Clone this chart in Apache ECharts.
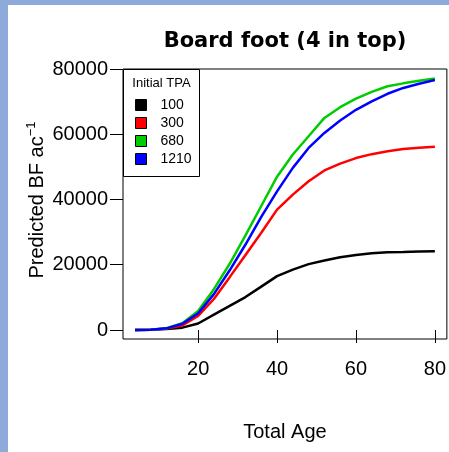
<!DOCTYPE html>
<html>
<head>
<meta charset="utf-8">
<script src="https://cdn.jsdelivr.net/npm/echarts@6/dist/echarts.min.js"></script>
<style>
html,body{margin:0;padding:0;background:#fff;}
#c{width:449px;height:452px;}
</style>
</head>
<body>
<div id="c"></div>
<script>
// Data
var ages = [4, 8, 12, 16, 20, 24, 28, 32, 36, 40, 44, 48, 52, 56, 60, 64, 68, 72, 76, 80];
var tpa100 = [0, 80, 300, 720, 2000, 4700, 7400, 10100, 13300, 16500, 18500, 20200, 21300, 22300, 23000, 23500, 23850, 23900, 24050, 24150];
var tpa300 = [0, 100, 450, 1400, 4300, 9500, 16200, 23000, 29800, 36900, 41500, 45600, 48900, 51000, 52700, 53900, 54800, 55450, 55850, 56150];
var tpa680 = [0, 100, 520, 2100, 5800, 12500, 20300, 29000, 38000, 47000, 53800, 59400, 65000, 68300, 70900, 73000, 74700, 75600, 76400, 77100];
var tpa1210 = [0, 100, 500, 1900, 5100, 11000, 18300, 26200, 34700, 42500, 49700, 55800, 60400, 64200, 67500, 70100, 72400, 74200, 75500, 76600];
var legendNames = ['100', '300', '680', '1210'];
var xTicks = [20, 40, 60, 80];
var yTicks = [0, 20000, 40000, 60000, 80000];

var FONT = 'Liberation Sans, Arial, sans-serif';
function pairs(v) { return ages.map(function (a, i) { return [a, v[i]]; }); }
var colors = ['#000000', '#ff0000', '#00cc00', '#0000ff'];
var seriesData = [tpa100, tpa300, tpa680, tpa1210];

var chart = echarts.init(document.getElementById('c'), null, {renderer: 'canvas'});
chart.setOption({
  backgroundColor: '#ffffff',
  animation: false,
  textStyle: {fontFamily: FONT, color: '#000'},
  title: {
    text: 'Board foot (4 in top)',
    left: 280, top: 26, textAlign: 'center',
    textStyle: {fontFamily: 'DejaVu Sans', fontSize: 21, fontWeight: 'bold', color: '#000'}
  },
  grid: {left: 123, top: 69, right: 2, bottom: 113, show: true, borderColor: '#000', borderWidth: 1, backgroundColor: 'transparent'},
  xAxis: {
    type: 'value', min: 0.96, max: 83.04,
    name: 'Total Age', nameLocation: 'middle', nameGap: 83, nameMoveOverlap: false,
    nameTextStyle: {fontFamily: FONT, fontSize: 20, color: '#000'},
    axisLine: {show: false},
    axisTick: {show: true, length: 13, customValues: xTicks, lineStyle: {color: '#000', width: 1}},
    axisLabel: {customValues: xTicks, margin: 20, fontSize: 20, color: '#000', fontFamily: FONT},
    splitLine: {show: false}
  },
  yAxis: {
    type: 'value', min: -2760, max: 80000,
    name: '{a|Predicted BF ac}{b|−1}', nameLocation: 'middle', nameGap: 74, nameMoveOverlap: false,
    nameTextStyle: {
      fontFamily: FONT, fontSize: 20, color: '#000', padding: [0, 0, 0, 8],
      rich: {
        a: {fontFamily: FONT, fontSize: 20, color: '#000', lineHeight: 24},
        b: {fontFamily: FONT, fontSize: 13, color: '#000', verticalAlign: 'top', lineHeight: 14}
      }
    },
    axisLine: {show: false},
    axisTick: {show: true, length: 13, customValues: yTicks, lineStyle: {color: '#000', width: 1}},
    axisLabel: {customValues: yTicks, margin: 15, fontSize: 20, color: '#000', fontFamily: FONT,
      formatter: function (v) { return String(v); }},
    splitLine: {show: false}
  },
  legend: {
    data: legendNames, orient: 'vertical', left: 135, top: 96, padding: 0,
    itemWidth: 11, itemHeight: 11, itemGap: 0, icon: 'rect', z: 10,
    itemStyle: {borderColor: '#000', borderWidth: 1},
    textStyle: {fontFamily: FONT, fontSize: 14, color: '#000', lineHeight: 18, padding: [0, 0, 0, 9]}
  },
  graphic: [
    {type: 'rect', shape: {x: 0, y: 0, width: 449, height: 5}, style: {fill: '#8eaadb'}, z: 100},
    {type: 'rect', shape: {x: 0, y: 0, width: 8, height: 452}, style: {fill: '#8eaadb'}, z: 100},
    {type: 'rect', shape: {x: 123.5, y: 69.5, width: 76, height: 107}, style: {fill: '#fff', stroke: '#000', lineWidth: 1}, z: 5},
    {type: 'text', x: 161.5, y: 83.5, style: {text: 'Initial TPA', font: '13px ' + FONT, fill: '#000', textAlign: 'center', textVerticalAlign: 'middle'}, z: 6}
  ],
  series: legendNames.map(function (n, i) {
    return {
      name: n, type: 'line', data: pairs(seriesData[i]), showSymbol: false, symbol: 'none',
      lineStyle: {color: colors[i], width: 2.5}, itemStyle: {color: colors[i]}, z: 2 + i
    };
  })
});
</script>
</body>
</html>
